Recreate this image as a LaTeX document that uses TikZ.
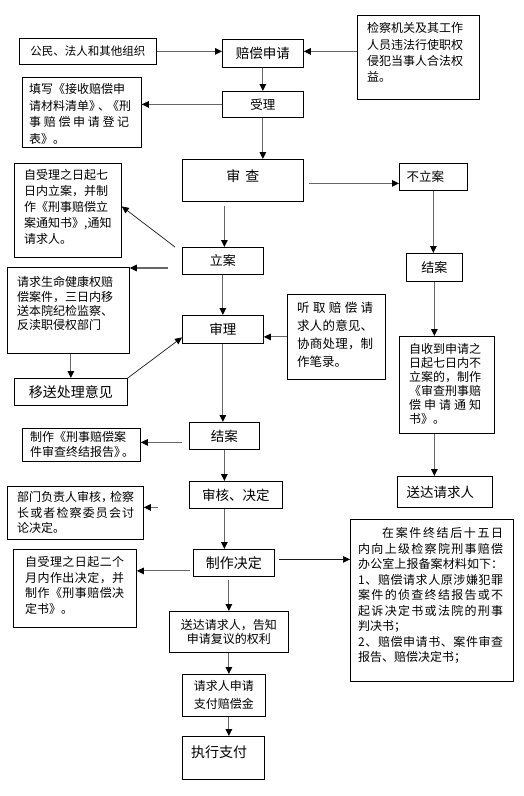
\documentclass[tikz,border=0pt]{standalone}
\usepackage{fontspec}
\setmainfont{Noto Sans CJK SC}
\usetikzlibrary{arrows.meta,calc}
\newcommand\fsz[2]{\fontsize{#1}{#2}\selectfont}
\makeatletter
\newcommand\jst[2]{\makebox[#1][s]{\jst@loop#2\@nil}}
\def\jst@loop#1#2\@nil{#1\ifx\relax#2\relax\else\hfill\jst@loop#2\@nil\fi}
\makeatother
\tikzset{
  box/.style={draw=black, line width=0.8pt, inner sep=0pt, anchor=north west, align=center},
  txt/.style={anchor=north west, inner sep=0pt, align=left},
  conn/.style={draw=black!60, line width=1.1pt, -{Triangle[black,length=7pt,width=6.5pt]}},
  diag/.style={draw=black!90, line width=0.7pt, -{Triangle[black,length=7pt,width=6.5pt]}}
}
\begin{document}
\begin{tikzpicture}[x=1pt,y=-1pt]
\fill[white] (0,0) rectangle (523,796);
\useasboundingbox (0,0) rectangle (523,796);

% boxes
\node[box,minimum width=137pt,minimum height=26pt,font=\fsz{11.5}{14}] (gm) at (19,38) {公民、法人和其他组织};
\node[box,minimum width=81pt,minimum height=28pt,font=\fsz{13.5}{16}] (pc) at (222,39) {赔偿申请};
\node[box,minimum width=122pt,minimum height=84pt] (jc) at (357,15) {};
\node[txt,font=\fsz{12}{16.3}] (jct) at (367,22.5) {检察机关及其工作\\人员违法行使职权\\侵犯当事人合法权\\益。};
\node[box,minimum width=81pt,minimum height=26pt,font=\fsz{12.5}{15}] (sl) at (222,91) {受理};
\node[box,minimum width=119pt,minimum height=70pt] (tx) at (22,77) {};
\node[txt,font=\fsz{12}{16.5}] (txt) at (29,83.5) {填写《接收赔偿申\\请材料清单》\kern-3pt、\kern-3pt《刑\\\jst{100pt}{事赔偿申请登记}\\表》。};
\node[box,minimum width=121pt,minimum height=42pt,font=\fsz{14}{16}] (sc) at (182,159) {\raisebox{4pt}[\height][\depth]{审\hspace{5pt}查}};
\node[box,minimum width=68pt,minimum height=27pt,font=\fsz{12.5}{15}] (bl) at (399,163) {不立案\hspace{16pt}};
\node[box,minimum width=81pt,minimum height=27pt,font=\fsz{13}{15}] (la) at (182,247) {立案};
\node[box,minimum width=107pt,minimum height=94pt] (zs) at (14,163) {};
\node[txt,font=\fsz{12}{16}] (zst) at (24,169.5) {自受理之日起七\\\jst{84pt}{日内立案，并制}\\\jst{84pt}{作《刑事赔偿立}\\案通知书》,通知\\请求人。};
\node[box,minimum width=122pt,minimum height=86pt] (qq) at (7,267) {};
\node[txt,font=\fsz{12}{14.2}] (qqt) at (17,276.5) {请求生命健康权赔\\偿案件，三日内移\\送本院纪检监察、\\反渎职侵权部门};
\node[box,minimum width=98pt,minimum height=85pt] (tq) at (287,294) {};
\node[txt,font=\fsz{12.5}{18}] (tqt) at (297,302) {\jst{76pt}{听取赔偿请}\\\jst{76pt}{求人的意见、}\\\jst{76pt}{协商处理，制}\\作笔录。};
\node[box,minimum width=81pt,minimum height=28pt,font=\fsz{13.5}{16}] (sh) at (182,315) {审理};
\node[box,minimum width=113pt,minimum height=27pt,font=\fsz{14}{16}] (ys) at (14,378) {移送处理意见};
\node[box,minimum width=56pt,minimum height=28pt,font=\fsz{13}{15}] (jr) at (406,253) {结案};
\node[box,minimum width=95pt,minimum height=97pt] (zd) at (399,336) {};
\node[txt,font=\fsz{12}{14}] (zdt) at (409,343.5) {自收到申请之\\日起七日内不\\立案的，制作\\《审查刑事赔\\\jst{72pt}{偿申请通知}\\书》。};
\node[box,minimum width=70pt,minimum height=27pt,font=\fsz{13.5}{16}] (ja) at (189,422) {结案};
\node[box,minimum width=118pt,minimum height=33pt] (zb) at (22,428) {};
\node[txt,font=\fsz{12}{15}] (zbt) at (30,431.5) {制作《刑事赔偿案\\件审查终结报告》\kern-4pt。};
\node[box,minimum width=93pt,minimum height=27pt,font=\fsz{13.5}{16}] (shd) at (189,481) {审核、决定};
\node[box,minimum width=136pt,minimum height=53pt] (bm) at (7,486) {};
\node[txt,font=\fsz{12}{15.5}] (bmt) at (17,491.5) {部门负责人审核，\kern-3pt检察\\\jst{117pt}{长或者检察委员会讨}\\论决定。};
\node[box,minimum width=95pt,minimum height=31pt,font=\fsz{13.5}{16}] (sd) at (397,476) {送达请求人\hspace{9pt}};
\node[box,minimum width=163pt,minimum height=162pt] (za) at (350,519) {};
\node[txt,font=\fsz{12}{15.5}] (zat) at (358,527.5) {\hspace{24pt}\jst{121pt}{在案件终结后十五日}\\\jst{145pt}{内向上级检察院刑事赔偿}\\\jst{145pt}{办公室上报备案材料如下：}\\\jst{145pt}{1、赔偿请求人原涉嫌犯罪}\\\jst{145pt}{案件的侦查终结报告或不}\\\jst{145pt}{起诉决定书或法院的刑事}\\判决书；\\\jst{145pt}{2、赔偿申请书、案件审查}\\报告、赔偿决定书；};
\node[box,minimum width=81pt,minimum height=27pt,font=\fsz{14}{16}] (zj) at (193,549) {制作决定};
\node[box,minimum width=123pt,minimum height=78pt] (zs2) at (13,549) {};
\node[txt,font=\fsz{12}{15.5}] (zs2t) at (25,556.5) {\jst{99pt}{自受理之日起二个}\\\jst{99pt}{月内作出决定，并}\\\jst{99pt}{制作《刑事赔偿决}\\定书》。};
\node[box,minimum width=119pt,minimum height=41pt,font=\fsz{12}{14}] (sg) at (169,611) {送达请求人，告知\\申请复议的权利};
\node[box,minimum width=83pt,minimum height=42pt,font=\fsz{12}{18}] (qs) at (182,674) {请求人申请\\支付赔偿金};
\node[box,minimum width=82pt,minimum height=43pt] (zx) at (182,736) {};
\node[anchor=west,inner sep=0pt,font=\fsz{14}{16}] (zxt) at (191,752) {执行支付};

% connectors
\draw[conn] (gm.east) -- (gm.east -| pc.west);
\draw[conn] (gm.east -| jc.west) -- (gm.east -| pc.east);
\draw[conn] (pc.south) -- (sl.north);
\draw[conn] (sl.west) -- (sl.west -| tx.east);
\draw[conn] (sl.south) -- (sl.south |- sc.north);
\draw[conn,shorten <=5pt] ($(sc.east)+(0,3)$) -- ($(sc.east -| bl.west)+(0,3)$);
\draw[conn] (bl.south) -- (bl.south |- jr.north);
\draw[conn,shorten <=4pt] ($(la.north |- sc.south)+(1.5,0)$) -- ($(la.north)+(1.5,0)$);
\draw[diag] ($(la.north west)+(-7,0)$) -- ($(zs.east)+(0,-4)$);
\draw[conn] ($(qq.north east -| la.west)+(-14,1)$) -- ($(qq.north east)+(0,1)$);
\draw[conn] (la.south) -- (la.south |- sh.north);
\draw[conn] (ys.north |- qq.south) -- (ys.north);
\draw[diag] (ys.north east) -- ($(sh.west)+(0,8)$);
\draw[conn] (tq.west) -- (tq.west -| sh.east);
\draw[conn] (sh.south) -- (sh.south |- ja.north);
\draw[conn] (jr.south) -- (jr.south |- zd.north);
\draw[conn,shorten <=7pt] ($(ja.west |- zb.east)+(0,-2.5)$) -- ($(zb.east)+(0,-2.5)$);
\draw[conn] (ja.south) -- (ja.south |- shd.north);
\draw[conn] (jr.south |- zd.south) -- (jr.south |- sd.north);
\draw[conn] ($(bm.east)+(14,-5.5)$) -- ($(bm.east)+(0,-5.5)$);
\draw[conn] (ja.south |- shd.south) -- (ja.south |- zj.north);
\draw[conn,shorten <=3pt] ($(zj.west)+(0,8)$) -- ($(zj.west -| zs2.east)+(0,8)$);
\draw[diag,shorten <=4pt] ($(zj.east)+(0,-3.5)$) -- ($(zj.east -| za.west)+(0,-3.5)$);
\draw[conn,shorten <=3pt] (sg.north |- zj.south) -- (sg.north);
\draw[conn] (sg.south) -- (sg.south |- qs.north);
\draw[conn] (sg.south |- qs.south) -- (sg.south |- zx.north);
\end{tikzpicture}
\end{document}
